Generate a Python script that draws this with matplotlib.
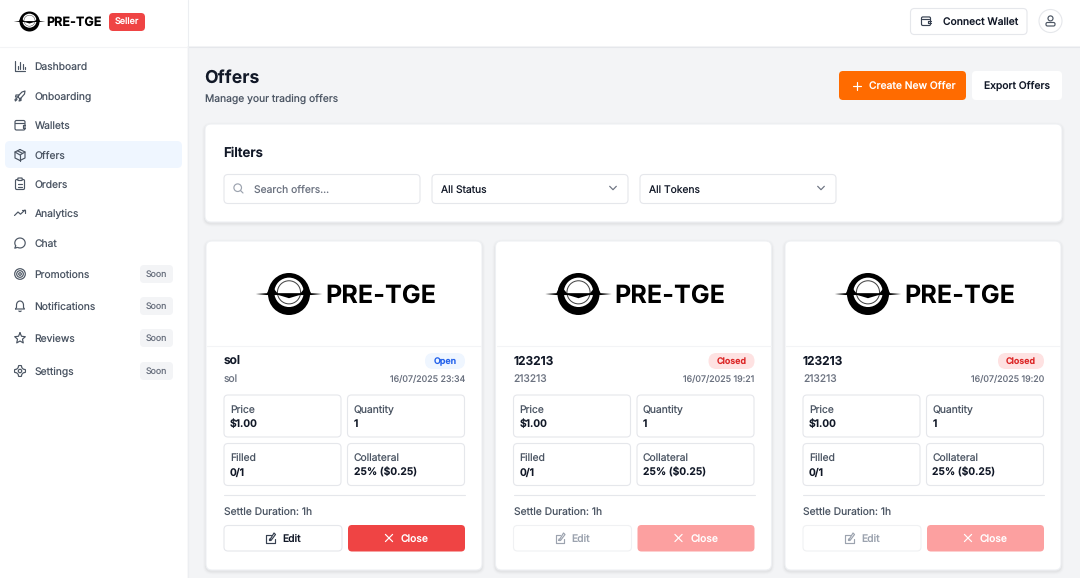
import numpy as np
import matplotlib
matplotlib.use("Agg")
import matplotlib.pyplot as plt
from matplotlib.patches import FancyBboxPatch, Circle, Polygon

plt.rcParams['font.family'] = ['Inter', 'DejaVu Sans']
plt.rcParams['text.hinting'] = 'no_hinting'
plt.rcParams['text.hinting_factor'] = 8

# page content
nav_labels = ["Dashboard", "Onboarding", "Wallets", "Offers", "Orders", "Analytics", "Chat",
              "Promotions", "Notifications", "Reviews", "Settings"]
nav_icons = ["chart", "rocket", "wallet", "box", "clip", "trend", "chat", "target", "bell", "star", "gear"]
nav_rows = [66, 96, 125, 155, 184, 213, 243, 274, 306, 338, 371]
nav_soon = [False] * 7 + [True] * 4

card_titles = ["sol", "123213", "123213"]
card_subs = ["sol", "213213", "213213"]
card_dates = ["16/07/2025 23:34", "16/07/2025 19:21", "16/07/2025 19:20"]
card_status = ["Open", "Closed", "Closed"]
card_offsets = [0, 289.5, 579]
cell_labels = ["Price", "Quantity", "Filled", "Collateral"]
cell_values = ["$1.00", "1", "0/1", "25% ($0.25)"]
settle = "Settle Duration: 1h"

INK = "#111827"
GRAY = "#4b5563"
MUTED = "#6b7280"
LINE = "#e5e7eb"
BODY = 10.3

fig = plt.figure(figsize=(10.8, 5.78), dpi=100, facecolor="#f3f4f6")
ax = fig.add_axes([0, 0, 1, 1])
ax.set_xlim(0, 1080)
ax.set_ylim(578, 0)
ax.axis("off")


def box(x0, y0, x1, y1, r=4, fc="white", ec="none", lw=0.8, z=2):
    p = FancyBboxPatch((x0, y0), x1 - x0, y1 - y0, boxstyle="round,pad=0,rounding_size=%s" % r,
                       fc=fc, ec=ec, lw=lw, zorder=z)
    ax.add_patch(p)
    return p


def txt(x, y, s, px=BODY, color=GRAY, weight="normal", ha="left", z=6):
    # y is the visual middle of the capitals, nudged so agg rounds the baseline down the page
    ax.text(x, y + 0.36 * px + 0.4, s, fontsize=px * 0.72, color=color, fontweight=weight,
            ha=ha, va="baseline", zorder=z)


def shadow(x0, y0, x1, y1, r=6):
    for grow, a in [(3, 0.012), (2, 0.018), (1, 0.03)]:
        p = box(x0 - grow, y0 - grow + 1.5, x1 + grow, y1 + grow + 1.5, r=r + grow, fc="black", z=1.5)
        p.set_alpha(a)


def ln(xs, ys, color, lw=0.9, z=5):
    ax.plot(xs, ys, color=color, lw=lw, solid_capstyle="round", solid_joinstyle="round", zorder=z)


def ring(cx, cy, r, color, lw=0.9, fc="none", z=5):
    ax.add_patch(Circle((cx, cy), r, fc=fc, ec=color, lw=lw, zorder=z))


def icon(kind, x, y, c=GRAY, s=1.0, lw=0.85):
    def L(xs, ys):
        ln([x + a * s for a in xs], [y + b * s for b in ys], c, lw)
    if kind == "chart":
        L([-5, -5, 5], [-5, 5, 5])
        L([-2.5, -2.5], [3, 0])
        L([0, 0], [3, -4])
        L([2.5, 2.5], [3, -2])
        L([4.6, 4.6], [3, 0.5])
    elif kind == "rocket":
        L([-2, -1, 2, 5, 4.5, 1, 0, -2], [1, -1, -4, -5, -2, 2, 3, 1])
        L([-1, -4, -4.5, -2], [-1, -1, 1, 1])
        L([1, 1, -1, 0], [2, 4.5, 5, 3])
        L([-3, -5, -4.6, -3], [2, 3.5, 5, 3.5])
    elif kind == "wallet":
        box(x - 5 * s, y - 4.5 * s, x + 5 * s, y + 5 * s, r=1.5 * s, fc="none", ec=c, lw=lw, z=5)
        L([-5, 3.5], [-2, -2])
        L([5, 2.5, 2.5, 5], [-0.5, -0.5, 2.5, 2.5])
    elif kind == "box":
        L([0, 5, 5, 0, -5, -5, 0], [-5.5, -3, 3, 5.5, 3, -3, -5.5])
        L([-5, 0, 5], [-3, 0, -3])
        L([0, 0], [0, 5.5])
        L([-2.5, 2.5], [-4.2, -1.6])
    elif kind == "clip":
        box(x - 4.5 * s, y - 4.5 * s, x + 4.5 * s, y + 5.5 * s, r=1.3 * s, fc="none", ec=c, lw=lw, z=5)
        box(x - 2.2 * s, y - 6 * s, x + 2.2 * s, y - 3.5 * s, r=0.6 * s, fc="white", ec=c, lw=lw, z=5.5)
        L([-2, 2], [-0.5, -0.5])
        L([-2, 2], [2.5, 2.5])
    elif kind == "trend":
        L([-5.5, -2, 0.5, 5], [2.5, -1, 1.2, -3])
        L([2, 5, 5], [-3, -3, 0])
    elif kind == "chat":
        t = np.radians(np.arange(-215, 125, 15))
        L(list(5.2 * np.cos(t)), list(5 * np.sin(t)))
        L([-4.3, -5.2, -2.6], [2.8, 5.2, 4.4])
    elif kind == "target":
        for r in [1.3, 3.3, 5.3]:
            ring(x, y, r * s, c, lw)
    elif kind == "bell":
        L([-4.5, -3.5, -3.5], [3, 1.5, -1])
        t = np.radians(np.arange(180, 361, 15))
        L(list(3.5 * np.cos(t)), list(-1 + 4 * np.sin(t)))
        L([3.5, 3.5, 4.5, -4.5], [-1, 1.5, 3, 3])
        L([-1.2, 0, 1.2], [5, 5.6, 5])
    elif kind == "star":
        t = np.radians(np.arange(-90, 271, 36))
        r = np.where(np.arange(11) % 2 == 0, 5.6, 2.6)
        L(list(r * np.cos(t)), list(0.4 + r * np.sin(t)))
    elif kind == "gear":
        t = np.radians(np.arange(0, 361, 15))
        r = 4.6 + 0.9 * np.sign(np.cos(4 * t))
        L(list(r * np.cos(t)), list(r * np.sin(t)))
        ring(x, y, 1.7 * s, c, lw)
    elif kind == "search":
        ring(x - 0.8 * s, y - 0.8 * s, 3.8 * s, c, lw)
        L([2, 4.5], [2, 4.5])
    elif kind == "chevron":
        L([-3.5, 0, 3.5], [-1.8, 1.8, -1.8])
    elif kind == "plus":
        L([-4, 4], [0, 0])
        L([0, 0], [-4, 4])
    elif kind == "x":
        L([-3.6, 3.6], [-3.6, 3.6])
        L([-3.6, 3.6], [3.6, -3.6])
    elif kind == "user":
        ring(x, y - 2.6 * s, 2.5 * s, c, lw)
        box(x - 4.5 * s, y + 1.5 * s, x + 4.5 * s, y + 5 * s, r=1.5 * s, fc="none", ec=c, lw=lw, z=5)
    elif kind == "edit":
        L([0, -4.5, -4.5, 4, 4, ], [-3.5, -3.5, 4.5, 4.5, 0.5])
        L([-1, -1, 3.5, 5, 0.5, -1], [1, 2.5, -5, -3.5, 2.5, 2.5])


def logo(cx, cy, R, text_x, px):
    ax.add_patch(Circle((cx, cy), R, fc="black", ec="none", zorder=4))
    ax.add_patch(Circle((cx, cy - 0.08 * R), 0.7 * R, fc="white", ec="none", zorder=4.1))
    ring(cx, cy - 0.08 * R, 0.55 * R, "#444444", lw=max(0.35, R * 0.035), z=4.2)
    # thin flare through the ring, with fillets where it meets the black
    flare_x = [-1.58, -1.05, -0.86, -0.55, 0.55, 0.86, 1.05, 1.58, 1.05, 0.6, -0.6, -1.05]
    flare_y = [0.0, -0.04, -0.42, -0.04, -0.04, -0.42, -0.04, 0.0, 0.05, 0.05, 0.05, 0.05]
    ax.add_patch(Polygon([(cx + a * R, cy + b * R) for a, b in zip(flare_x, flare_y)],
                         fc="black", ec="none", zorder=4.3))
    ax.add_patch(Polygon([(cx - 0.5 * R, cy + 0.05 * R), (cx, cy + 0.02 * R), (cx + 0.5 * R, cy + 0.05 * R),
                          (cx, cy + 0.2 * R)], fc="black", ec="none", zorder=4.3))
    txt(text_x, cy - 0.4, "PRE-TGE", px=px, color="black", weight="bold")


# sidebar and top bar
box(0, 0, 1080, 46, r=0.01, fc="white", z=1)
ln([188, 1080], [46.5, 46.5], LINE, lw=0.8, z=1.2)
box(0, 0, 187.5, 578, r=0.01, fc="white", z=1.3)
ln([187.8, 187.8], [0, 578], "#eceef1", lw=0.8, z=1.4)
ln([0, 187], [46.5, 46.5], "#f3f4f6", lw=0.8, z=1.4)

logo(29.5, 21.5, 10, 46.6, 12.6)
box(109, 13, 145, 31, r=4, fc="#ef4444")
txt(127, 21.5, "Seller", px=9, color="white", weight="medium", ha="center")

box(5, 141, 182, 168, r=5, fc="#eff6ff")
for label, kind, y, soon in zip(nav_labels, nav_icons, nav_rows, nav_soon):
    icon(kind, 20, y, c=GRAY)
    txt(34.5, y, label)
    if soon:
        box(140, y - 9, 173, y + 9, r=4, fc="#f3f4f6")
        txt(156.5, y - 0.5, "Soon", px=8.8, color=MUTED, ha="center")

# header actions
box(910.5, 8.5, 1027, 34.5, r=4, ec=LINE)
icon("wallet", 926, 21, c="#374151", s=0.9)
txt(943, 21, "Connect Wallet", color=INK, weight="medium")
ring(1050.5, 21, 11.5, LINE, lw=0.8, fc="white", z=2)
icon("user", 1050.5, 21, c=GRAY)

# page heading
txt(204.5, 76, "Offers", px=17.7, color=INK, weight="bold")
txt(205, 98, "Manage your trading offers")
box(839, 71, 966, 100, r=4, fc="#ff6b00")
icon("plus", 857, 85.5, c="white")
txt(869, 84.8, "Create New Offer", color="white", weight="medium")
box(972, 71, 1062, 100, r=4, fc="white")
txt(1017, 84.8, "Export Offers", color=INK, weight="medium", ha="center")

# filter panel
shadow(205, 124, 1062, 222)
box(205, 124, 1062, 222, r=6, ec="#eef0f3")
txt(223.5, 151.8, "Filters", px=13.3, color=INK, weight="semibold")
box(224, 174.5, 420, 203.5, r=4, ec=LINE)
icon("search", 238.5, 188.5, c="#9ca3af")
txt(254, 188.5, "Search offers...", color=MUTED)
for x0, label in zip([432, 640], ["All Status", "All Tokens"]):
    box(x0, 174.5, x0 + 196, 203.5, r=4, ec=LINE)
    txt(x0 + 9, 188.5, label, color=INK)
    icon("chevron", x0 + 181, 188, c=MUTED, s=0.95)

# offer cards
for i, dx in enumerate(card_offsets):
    shadow(206 + dx, 241, 482 + dx, 570)
    box(206 + dx, 241, 482 + dx, 570, r=6, ec="#eef0f3")
    ln([207 + dx, 481 + dx], [346, 346], "#f3f4f6", lw=0.8, z=3)
    logo(289 + dx, 294, 21, 325 + dx, 25.2)

    txt(224 + dx, 360, card_titles[i], px=12, color=INK, weight="semibold")
    txt(224 + dx, 378, card_subs[i], color=MUTED)
    txt(465 + dx, 378, card_dates[i], px=8.9, color=MUTED, ha="right")

    is_open = card_status[i] == "Open"
    left = 425 if is_open else 419
    box(left + dx, 353, 465 + dx, 369, r=8, fc="#eff6ff" if is_open else "#fee2e2")
    txt((left + 465) / 2 + dx, 360.6, card_status[i], px=8.9, color="#2563eb" if is_open else "#dc2626",
        weight="semibold", ha="center")

    for j in range(4):
        x0 = (224 if j % 2 == 0 else 347.5) + dx
        y0 = 395 if j < 2 else 443.5
        box(x0, y0, x0 + 117, y0 + 42, r=4, ec=LINE)
        txt(x0 + 6, y0 + 13.4, cell_labels[j])
        txt(x0 + 6, y0 + 28, cell_values[j], color=INK, weight="semibold")

    ln([224 + dx, 465 + dx], [495, 495], LINE, lw=0.8, z=3)
    txt(224 + dx, 511, settle)

    # closed offers have their buttons greyed out
    edit_col = INK if is_open else "#9ca3af"
    box(224 + dx, 525.5, 342 + dx, 551, r=4, ec=LINE if is_open else "#f0f1f3")
    icon("edit", 270.5 + dx, 538, c="#374151" if is_open else "#9ca3af")
    txt(282 + dx, 538, "Edit", color=edit_col, weight="medium")
    box(348 + dx, 525, 465 + dx, 551.5, r=4, fc="#ef4444" if is_open else "#fca0a0")
    icon("x", 389 + dx, 538, c="white")
    txt(401 + dx, 538, "Close", color="white", weight="medium")

fig.savefig("out.png", dpi=100, facecolor=fig.get_facecolor())
